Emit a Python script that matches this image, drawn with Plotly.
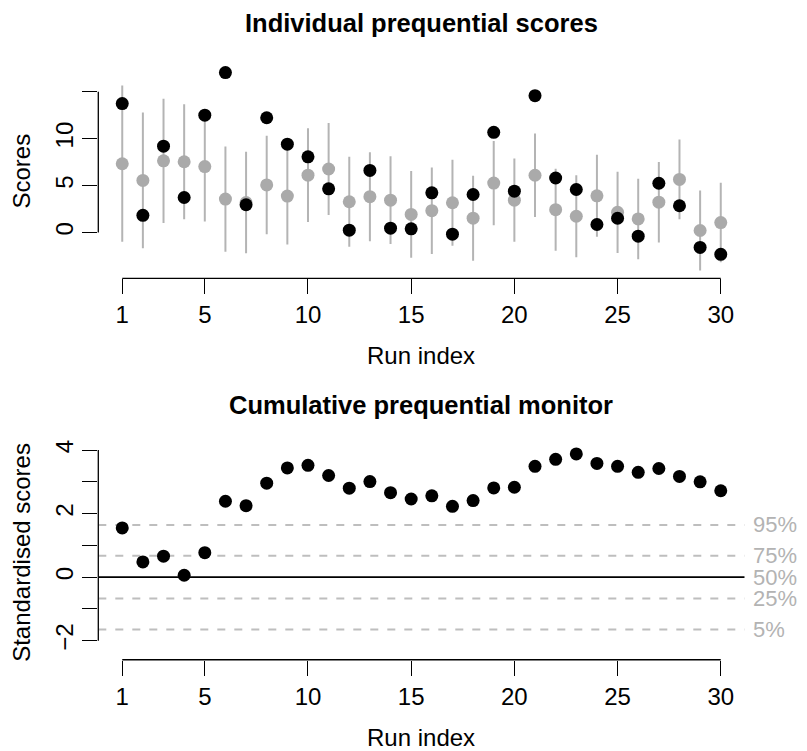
import plotly.graph_objects as go

# ---------------- data ----------------
runs = list(range(1, 31))

# Top panel: observed individual scores (black) and predictive mean (grey) with interval
observed_scores = [13.74, 1.83, 9.20, 3.73, 12.51, 17.05, 2.96, 12.23, 9.41, 8.07,
                   4.65, 0.25, 6.62, 0.46, 0.39, 4.23, -0.18, 4.05, 10.68, 4.40,
                   14.59, 5.81, 4.58, 0.85, 1.52, -0.39, 5.25, 2.85, -1.59, -2.33]
predicted_mean = [7.33, 5.55, 7.64, 7.54, 7.03, 3.56, 3.19, 5.07, 3.88, 6.11,
                  6.77, 3.28, 3.82, 3.45, 1.93, 2.33, 3.17, 1.53, 5.27, 3.45,
                  6.10, 2.43, 1.73, 3.91, 2.15, 1.45, 3.23, 5.66, 0.21, 1.06]
interval_lower = [-0.99, -1.69, 1.02, 1.41, 1.16, -2.04, -2.22, -0.18, -1.27, 1.13,
                  1.87, -1.52, -0.92, -1.23, -2.68, -2.29, -1.41, -3.00, 0.78, -0.99,
                  1.66, -1.94, -2.64, -0.46, -2.18, -2.85, -1.06, 1.41, -4.05, -3.17]
interval_upper = [15.68, 12.79, 14.27, 13.67, 12.90, 9.16, 8.60, 10.32, 9.03, 11.10,
                  11.66, 8.07, 8.56, 8.14, 6.55, 6.94, 7.75, 6.06, 9.76, 7.89,
                  10.54, 6.80, 6.10, 8.28, 6.48, 5.74, 7.51, 9.90, 4.47, 5.29]

# Bottom panel: cumulative standardised scores
cumulative_scores = [1.55, 0.48, 0.66, 0.06, 0.77, 2.39, 2.25, 2.96, 3.44, 3.52,
                     3.20, 2.80, 3.01, 2.66, 2.46, 2.56, 2.23, 2.41, 2.81, 2.83,
                     3.49, 3.71, 3.88, 3.58, 3.49, 3.30, 3.42, 3.17, 3.00, 2.72]

# reference quantile lines (standard normal quantiles)
quantile_labels = ["95%", "75%", "25%", "5%"]
quantile_values = [1.645, 0.674, -0.674, -1.645]
median_label = "50%"
median_value = 0.0

x_tickvals = [1, 5, 10, 15, 20, 25, 30]
top_y_tickvals = [0, 5, 10, 15]
top_y_ticktext = ["0", "5", "10", ""]
bot_y_tickvals = [-2, -1, 0, 1, 2, 3, 4]
bot_y_ticktext = ["\u22122", "", "0", "", "2", "", "4"]

# ---------------- layout geometry (pixels) ----------------
W, H = 807, 751
PL, PR = 98.3, 744.7          # plot region left/right
TOP_T, TOP_B = 59.1, 274.6    # top panel plot region
BOT_T, BOT_B = 443.5, 659.0   # bottom panel plot region

def py(v):
    return (H - v) / H

def px(v):
    return v / W

FONT = "Liberation Sans, Arial, Helvetica, sans-serif"
TICK_SIZE = 24
LAB_SIZE = 24
PCT_SIZE = 22
TITLE_SIZE = 25.5
GREY_PT = "#AAAAAA"
GREY_LINE = "#B4B4B4"
GREY_DASH = "#BEBEBE"
GREY_TXT = "#B3B3B3"

x_range = [1 - 0.04 * 29, 30 + 0.04 * 29]
lo = min(interval_lower + observed_scores)
hi = max(interval_upper + observed_scores)
d = hi - lo
top_y_range = [lo - 0.04 * d, hi + 0.04 * d]
bot_y_range = [-2.60, 4.13]

fig = go.Figure()

# ---- top panel ----
fig.add_trace(go.Scatter(
    x=runs, y=predicted_mean, mode="markers",
    marker=dict(color=GREY_PT, size=13, line=dict(width=0)),
    error_y=dict(type="data", symmetric=False,
                 array=[u - m for u, m in zip(interval_upper, predicted_mean)],
                 arrayminus=[m - l for m, l in zip(predicted_mean, interval_lower)],
                 width=0, thickness=2, color=GREY_LINE),
    xaxis="x", yaxis="y", showlegend=False, hoverinfo="skip"))
fig.add_trace(go.Scatter(
    x=runs, y=observed_scores, mode="markers",
    marker=dict(color="black", size=13, line=dict(width=0)),
    xaxis="x", yaxis="y", showlegend=False, hoverinfo="skip", cliponaxis=False))

# ---- bottom panel ----
for q in quantile_values:
    fig.add_trace(go.Scatter(
        x=x_range, y=[q, q], mode="lines",
        line=dict(color=GREY_DASH, width=2, dash="8px,9px"),
        xaxis="x2", yaxis="y2", showlegend=False, hoverinfo="skip"))
fig.add_trace(go.Scatter(
    x=x_range, y=[median_value, median_value], mode="lines",
    line=dict(color="black", width=1.6),
    xaxis="x2", yaxis="y2", showlegend=False, hoverinfo="skip"))
fig.add_trace(go.Scatter(
    x=runs, y=cumulative_scores, mode="markers",
    marker=dict(color="black", size=13, line=dict(width=0)),
    xaxis="x2", yaxis="y2", showlegend=False, hoverinfo="skip", cliponaxis=False))

common_x = dict(range=x_range, showgrid=False, zeroline=False, showline=False,
                tickmode="array", tickvals=x_tickvals, ticks="outside", ticklen=15,
                tickwidth=1.3, tickcolor="black",
                tickfont=dict(family=FONT, size=TICK_SIZE, color="black"),
                domain=[px(PL), px(PR)])
common_y = dict(showgrid=False, zeroline=False, showline=False, tickmode="array",
                ticks="outside", ticklen=15, tickwidth=1.3, tickcolor="black",
                tickangle=-90,
                tickfont=dict(family=FONT, size=TICK_SIZE, color="black"))

fig.update_layout(
    width=W, height=H, margin=dict(l=0, r=0, t=0, b=0),
    plot_bgcolor="white", paper_bgcolor="white",
    xaxis=dict(common_x, anchor="y"),
    yaxis=dict(common_y, anchor="x", range=top_y_range, tickvals=top_y_tickvals,
               ticktext=top_y_ticktext, domain=[py(TOP_B), py(TOP_T)]),
    xaxis2=dict(common_x, anchor="y2"),
    yaxis2=dict(common_y, anchor="x2", range=bot_y_range, tickvals=bot_y_tickvals,
                ticktext=bot_y_ticktext, domain=[py(BOT_B), py(BOT_T)]),
)

def frac(v, r):
    return (v - r[0]) / (r[1] - r[0])

shapes = []
# axis lines spanning first to last tick (R style)
for xa, ya, yr, ytv in [("x", "y", top_y_range, top_y_tickvals),
                        ("x2", "y2", bot_y_range, bot_y_tickvals)]:
    shapes.append(dict(type="line", xref=xa + " domain", yref=ya + " domain",
                       x0=frac(x_tickvals[0], x_range), x1=frac(x_tickvals[-1], x_range),
                       y0=0, y1=0, line=dict(color="black", width=1.3)))
    shapes.append(dict(type="line", xref=xa + " domain", yref=ya + " domain",
                       x0=0, x1=0, y0=frac(ytv[0], yr), y1=frac(ytv[-1], yr),
                       line=dict(color="black", width=1.3)))
fig.update_layout(shapes=shapes)

ann = []
ann.append(dict(text="<b>Individual prequential scores</b>", xref="paper", yref="paper",
                x=px((PL + PR) / 2), y=py(17.5), showarrow=False,
                font=dict(family=FONT, size=TITLE_SIZE, color="black"),
                xanchor="center", yanchor="middle"))
ann.append(dict(text="<b>Cumulative prequential monitor</b>", xref="paper", yref="paper",
                x=px((PL + PR) / 2), y=py(402), showarrow=False,
                font=dict(family=FONT, size=TITLE_SIZE, color="black"),
                xanchor="center", yanchor="middle"))
ann.append(dict(text="Run index", xref="paper", yref="paper",
                x=px((PL + PR) / 2), y=py(TOP_B + 78), showarrow=False,
                font=dict(family=FONT, size=LAB_SIZE, color="black"),
                xanchor="center", yanchor="middle"))
ann.append(dict(text="Run index", xref="paper", yref="paper",
                x=px((PL + PR) / 2), y=py(BOT_B + 78), showarrow=False,
                font=dict(family=FONT, size=LAB_SIZE, color="black"),
                xanchor="center", yanchor="middle"))
ann.append(dict(text="Scores", xref="paper", yref="paper",
                x=px(22), y=py((TOP_T + TOP_B) / 2), showarrow=False, textangle=-90,
                font=dict(family=FONT, size=LAB_SIZE, color="black"),
                xanchor="center", yanchor="middle"))
ann.append(dict(text="Standardised scores", xref="paper", yref="paper",
                x=px(22), y=py((BOT_T + BOT_B) / 2), showarrow=False, textangle=-90,
                font=dict(family=FONT, size=LAB_SIZE, color="black"),
                xanchor="center", yanchor="middle"))
for lab, q in list(zip(quantile_labels, quantile_values)) + [(median_label, median_value)]:
    ann.append(dict(text=lab, xref="x2 domain", yref="y2", x=1, y=q, xshift=6,
                    showarrow=False, xanchor="left", yanchor="middle",
                    font=dict(family=FONT, size=PCT_SIZE, color=GREY_TXT)))
fig.update_layout(annotations=ann)

fig.write_html("out.html",
               config={"displayModeBar": False},
               post_script="document.body.style.margin='0px';"
                           "document.body.style.overflow='hidden';")
